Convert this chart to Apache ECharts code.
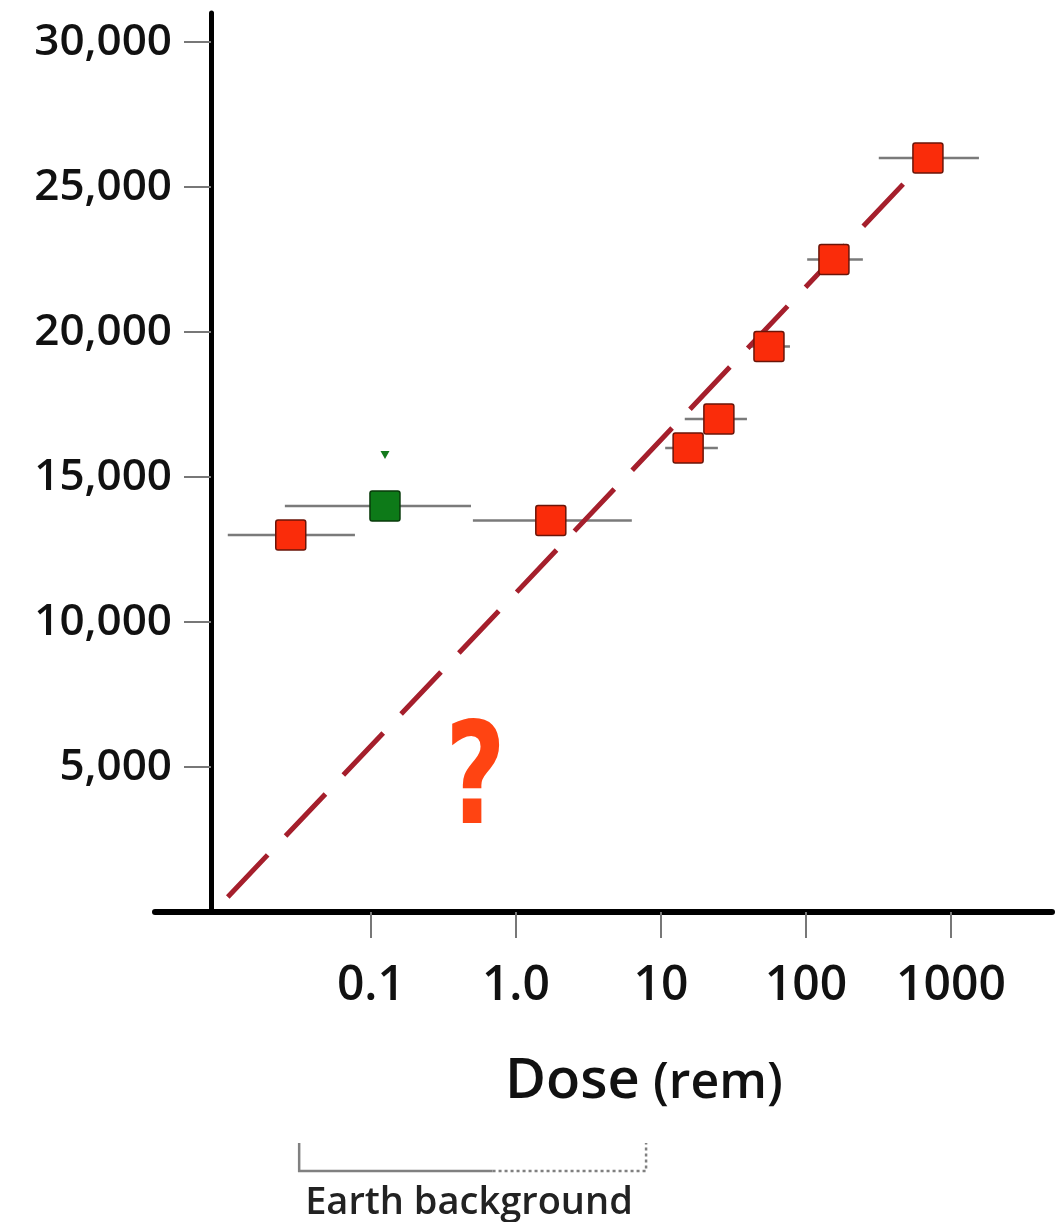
<!DOCTYPE html>
<html>
<head>
<meta charset="utf-8">
<script src="https://cdn.jsdelivr.net/npm/echarts@6/dist/echarts.min.js"></script>
<style>
  html, body { margin: 0; padding: 0; background: #fff; }
  #main { width: 1063px; height: 1222px; }
</style>
</head>
<body>
<div id="main"></div>
<script>
// 剂量 (rem) 与数值 —— 从图上估读
var doseMid   = [0.028, 1.74, 15.4, 25.1, 55.6, 156, 694];
var valueMid  = [13000, 13500, 16000, 17000, 19500, 22500, 26000];
var doseLow   = [0.0103, 0.505, 10.7, 14.6, 39.8, 102, 318];
var doseHigh  = [0.0776, 6.3, 24.7, 39.2, 77.6, 247, 1560];
// 绿色点
var greenDose = [0.125];
var greenValue = [14000];
var greenLow  = [0.0255];
var greenHigh = [0.49];
var greenTickDose = [0.125];
var greenTickValue = [15760];
// 虚线拟合
var fitDose  = [0.0103, 694];
var fitValue = [517, 26000];
// 坐标刻度
var xTickValues = [0.1, 1, 10, 100, 1000];
var xTickLabels = ['0.1', '1.0', '10', '100', '1000'];
var yTickValues = [5000, 10000, 15000, 20000, 25000, 30000];
// Earth background 区间
var earthRange = [0.032, 0.69, 7.9];

var fontFam = '"Open Sans", "Noto Sans", sans-serif';
// 小圆角方块
var squarePath = 'path://M1.5,0 H18.5 Q20,0 20,1.5 V18.5 Q20,20 18.5,20 H1.5 Q0,20 0,18.5 V1.5 Q0,0 1.5,0 Z';

var errData = [];
for (var i = 0; i < doseMid.length; i++) {
	errData.push([doseLow[i], doseHigh[i], valueMid[i]]);
}
for (var j = 0; j < greenDose.length; j++) {
	errData.push([greenLow[j], greenHigh[j], greenValue[j]]);
}
var redData = doseMid.map(function (d, i) { return [d, valueMid[i]]; });
var greenData = greenDose.map(function (d, i) { return [d, greenValue[i]]; });
var greenTickData = greenTickDose.map(function (d, i) { return [d, greenTickValue[i]]; });
var fitData = fitDose.map(function (d, i) { return [d, fitValue[i]]; });

var chart = echarts.init(document.getElementById('main'), null, {renderer: 'canvas'});

var option = {
	backgroundColor: '#ffffff',
	animation: false,
	grid: {left: 155, right: 11, top: 13, bottom: 310, containLabel: false},
	xAxis: {
		type: 'log',
		logBase: 10,
		min: 0.003243,
		max: 4977,
		axisLine: {onZero: false, lineStyle: {color: '#000', width: 6}},
		axisTick: {show: true, length: 26, customValues: xTickValues, lineStyle: {color: '#777', width: 2}},
		axisLabel: {
			customValues: xTickValues,
			margin: 50,
			fontSize: 48,
			fontWeight: 600,
			color: '#111',
			fontFamily: fontFam,
			formatter: function (v) {
				for (var k = 0; k < xTickValues.length; k++) {
					if (Math.abs(Math.log10(v) - Math.log10(xTickValues[k])) < 1e-6) return xTickLabels[k];
				}
				return '';
			}
		},
		splitLine: {show: false}
	},
	yAxis: {
		type: 'value',
		min: 0,
		max: 31000,
		offset: -56,
		axisLine: {show: true, onZero: false, lineStyle: {color: '#000', width: 5}},
		axisTick: {show: true, length: 27, customValues: yTickValues, lineStyle: {color: '#777', width: 2}},
		axisLabel: {
			customValues: yTickValues,
			margin: 39,
			fontSize: 44,
			fontWeight: 600,
			color: '#111',
			fontFamily: fontFam,
			formatter: function (v) { return v.toLocaleString('en-US'); }
		},
		splitLine: {show: false}
	},
	series: [
		{
			name: 'error',
			type: 'custom',
			z: 2,
			encode: {x: [0, 1], y: 2},
			data: errData,
			renderItem: function (params, api) {
				var p1 = api.coord([api.value(0), api.value(2)]);
				var p2 = api.coord([api.value(1), api.value(2)]);
				return {
					type: 'line',
					shape: {x1: p1[0], y1: p1[1], x2: p2[0], y2: p2[1]},
					style: {stroke: '#7a7a7a', lineWidth: 2.5}
				};
			}
		},
		{
			name: 'fit',
			type: 'line',
			z: 3,
			data: fitData,
			symbol: 'none',
			lineStyle: {color: '#a51f2c', width: 5, type: [58, 26]}
		},
		{
			name: 'red',
			type: 'scatter',
			z: 5,
			data: redData,
			symbol: squarePath,
			symbolSize: 30,
			itemStyle: {color: '#fa2c0a', borderColor: '#6a1408', borderWidth: 1.5, opacity: 1}
		},
		{
			name: 'green',
			type: 'scatter',
			z: 5,
			data: greenData,
			symbol: squarePath,
			symbolSize: 30,
			itemStyle: {color: '#0d7a18', borderColor: '#083a0a', borderWidth: 1.5, opacity: 1}
		},
		{
			name: 'greenTick',
			type: 'scatter',
			z: 5,
			data: greenTickData,
			symbol: 'triangle',
			symbolRotate: 180,
			symbolSize: [9, 8],
			itemStyle: {color: '#137a1c', opacity: 1}
		}
	]
};
chart.setOption(option);

// Earth background 括号，由坐标换算
var ex = earthRange.map(function (v) { return chart.convertToPixel({xAxisIndex: 0}, v); });
var yTop = 1143, yBot = 1171;
chart.setOption({
	graphic: [
		{type: 'polyline', shape: {points: [[ex[0], yTop], [ex[0], yBot], [ex[1], yBot]]},
			style: {stroke: '#808080', lineWidth: 2.5, fill: null}},
		{type: 'polyline', shape: {points: [[ex[1], yBot], [ex[2], yBot], [ex[2], yTop]]},
			style: {stroke: '#808080', lineWidth: 2.5, fill: null, lineDash: [3, 3]}},
		{type: 'text', x: ex[0] + 6, y: 1203,
			style: {text: 'Earth background', fontSize: 38, fontWeight: 600, fill: '#222', fontFamily: fontFam, verticalAlign: 'middle'}},
		{type: 'text', x: 505, y: 1082,
			style: {text: 'Dose', fontSize: 56, fontWeight: 600, fill: '#111', fontFamily: fontFam, verticalAlign: 'middle'}},
		{type: 'text', x: 653, y: 1084,
			style: {text: '(rem)', fontSize: 50, fontWeight: 600, fill: '#111', fontFamily: fontFam, verticalAlign: 'middle'}},
		{type: 'text', x: 445, y: 787, scaleX: 0.75,
			style: {text: '?', fontSize: 140, fontWeight: 'bold', fill: '#ff4412', fontFamily: '"Liberation Sans Narrow", "DejaVu Sans", sans-serif', verticalAlign: 'middle'}}
	]
});
</script>
</body>
</html>
